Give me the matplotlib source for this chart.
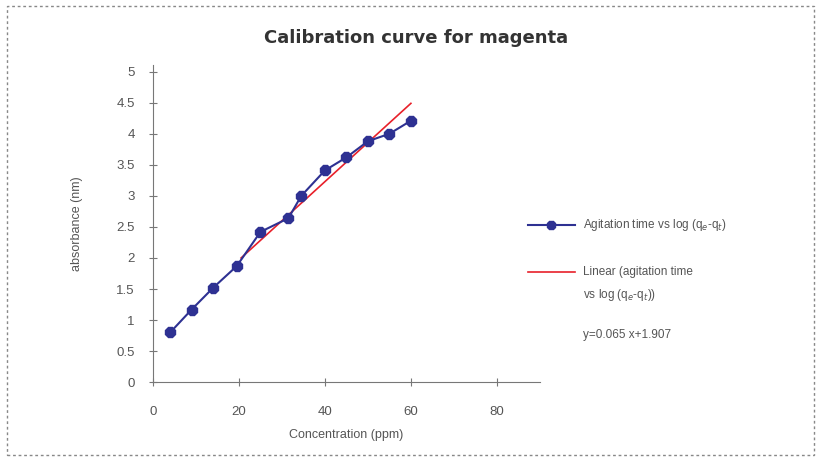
import matplotlib.pyplot as plt
from matplotlib.patches import Rectangle

plt.rcParams['font.family'] = ['Liberation Sans', 'DejaVu Sans']

# measured points
conc = [4, 9, 14, 19.5, 25, 31.5, 34.5, 40, 45, 50, 55, 60]
absorb = [0.80, 1.17, 1.52, 1.87, 2.42, 2.64, 3.00, 3.41, 3.62, 3.88, 4.00, 4.21]

# linear trend line endpoints
fit_x = [20.5, 60]
fit_y = [2.0, 4.49]

xticks = [0, 20, 40, 60, 80]
yticks = [0, 0.5, 1, 1.5, 2, 2.5, 3, 3.5, 4, 4.5, 5]
ytick_labels = ['0', '0.5', '1', '1.5', '2', '2.5', '3', '3.5', '4', '4.5', '5']

blue = '#2e3192'
grey = '#555555'

fig = plt.figure(figsize=(8.18, 4.61), dpi=100)
ax = fig.add_axes([0.187, 0.171, 0.473, 0.687])

ax.plot(conc, absorb, color=blue, lw=1.5, marker='8', ms=7.5, zorder=3)
ax.plot(fit_x, fit_y, color='#e8202a', lw=1.2, zorder=2)

ax.set_xlim(0, 90)
ax.set_ylim(0, 5.1)
ax.set_xticks(xticks)
ax.set_yticks(yticks)
ax.set_yticklabels(ytick_labels)
for s in ['top', 'right']:
    ax.spines[s].set_visible(False)
for s in ['left', 'bottom']:
    ax.spines[s].set_color('#777777')
ax.tick_params(direction='inout', length=6, colors='#777777', labelcolor=grey,
               labelsize=9.5)
ax.tick_params(axis='y', pad=10)
ax.tick_params(axis='x', pad=14)

ax.set_xlabel('Concentration (ppm)', color=grey, fontsize=9, labelpad=8)
ax.set_ylabel('absorbance (nm)', color=grey, fontsize=9, labelpad=24)

fig.text(0.509, 0.918, 'Calibration curve for magenta', ha='center', va='center',
         fontsize=13, color='#333333', family='DejaVu Sans', weight='bold')

# legend drawn by hand to the right of the axes
fig.add_artist(plt.Line2D([0.645, 0.674, 0.703], [0.512, 0.512, 0.512], color=blue,
                          lw=1.5, marker='8', ms=7, markevery=[1],
                          transform=fig.transFigure))
fig.add_artist(plt.Line2D([0.645, 0.703], [0.41, 0.41], color='#e8202a', lw=1.2,
                          transform=fig.transFigure))
fig.text(0.713, 0.512, 'Agitation time vs log (q$_e$-q$_t$)', va='center',
         fontsize=8.5, color=grey)
fig.text(0.713, 0.41, 'Linear (agitation time', va='center', fontsize=8.5, color=grey)
fig.text(0.713, 0.36, 'vs log (q$_e$-q$_t$))', va='center', fontsize=8.5, color=grey)
fig.text(0.713, 0.273, 'y=0.065 x+1.907', va='center', fontsize=8.5, color=grey)

fig.add_artist(Rectangle((0.008, 0.012), 0.987, 0.975, transform=fig.transFigure,
                         fill=False, ec='#888888', lw=1, ls=(0, (2, 2))))

fig.savefig('out.png', dpi=100)
